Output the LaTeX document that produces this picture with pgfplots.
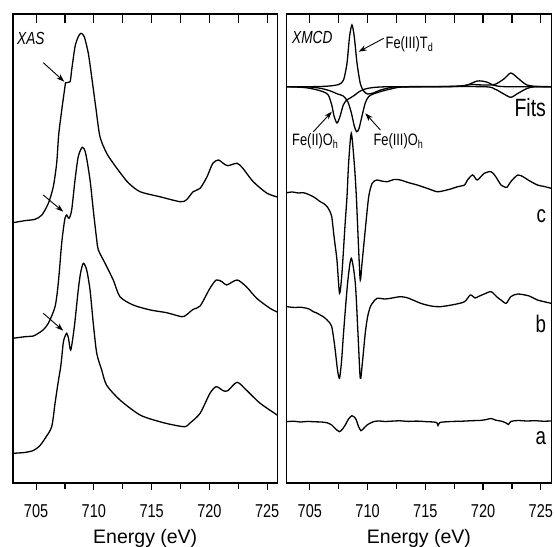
\documentclass[border=0pt]{standalone}
\usepackage{fontspec}
\usepackage{pgfplots}
\pgfplotsset{compat=1.18}
\usepackage{pgfplotstable}
\usetikzlibrary{arrows.meta}
\setmainfont{Liberation Sans}
\newfontfamily\cnd[FakeStretch=0.78]{Liberation Sans}
\newcommand{\fsz}[1]{\fontsize{#1}{#1}\selectfont}

% ---------- XAS (left) ----------
\pgfplotstableread{
E y
703.0 260.3
704.0 262.3
704.9 263.7
705.5 268
706.06 279.7
706.49 296.3
706.78 319.7
706.92 343
707.0 353
707.22 373
707.5 396.3
707.56 400.3
707.94 401.3
708.08 413
708.37 436.3
708.65 446.3
708.89 449.7
709.17 446.3
709.52 429.7
709.81 406.3
710.16 376.3
710.53 346.3
711.1 330
711.68 319.7
712.3 310
713.0 300
714.0 291.3
715.7 286.3
717.46 281.3
718.0 283
718.6 291.3
719.2 294.7
719.8 306.3
720.3 319.7
720.8 323
721.2 319.7
721.6 317.3
722.4 319.7
722.9 314.7
723.8 301.3
725.0 289.7
726.0 285.7
}\xasC
\pgfplotstableread{
E y
703.0 144.7
704.04 146.3
704.76 147
705.19 149.7
705.6 153
706.06 159.7
706.64 176.3
706.92 199.7
707.2 238
707.35 253
707.5 264.7
707.65 268
707.85 264.7
708.08 273
708.37 303
708.65 326.3
709.0 335.7
709.29 329.7
709.67 303
709.95 273
710.25 243
710.39 233
710.97 219.7
711.68 203
712.26 186.3
713.4 178
714.9 173
716.3 170.3
717.6 166.3
718.0 168
718.6 173.7
719.2 177
720.05 194.7
720.6 203
721.1 201.3
721.5 198
722.4 203
723.2 196.3
724.1 184.7
725.25 174.7
726.0 170.3
}\xasB
\pgfplotstableread{
E y
703.0 29.7
704.0 30.5
704.76 32.5
705.3 37
705.8 45
706.35 56.3
706.64 79.7
706.9 100
707.15 118
707.35 140
707.5 146.5
707.65 149.7
707.8 145
708.0 133
708.31 156.3
708.65 193
708.85 210
709.09 219.7
709.38 213
709.67 193
709.95 159.7
710.25 129.7
710.68 113
711.1 98
712.26 83
714.0 68
715.7 61.3
716.9 58
717.9 56.3
718.3 59.7
719.2 69.7
720.05 89.7
720.6 96.3
721.2 92.3
721.6 92.3
722.4 100.7
723.2 93
724.4 79.7
726.0 67
}\xasA

% ---------- XMCD (right) ----------
\pgfplotstableread{
E y
703.0 290.3
703.5 291
704.0 290
704.45 290.3
704.9 288.5
705.3 286.3
705.6 284
705.9 281.3
706.2 279.5
706.5 276.3
706.7 272.5
706.9 266.3
707.1 246.3
707.35 223
707.57 189.7
707.75 205
707.9 230
708.05 258
708.22 286.3
708.36 319.7
708.59 349.7
708.85 319.7
709.03 286.3
709.23 233
709.37 203
709.52 219.7
709.8 253
710.1 286.3
710.4 299.7
710.8 303
711.2 302
711.7 301.3
712.3 303.5
712.85 303
713.5 300.5
714.3 298
715.2 294.5
716.0 291.3
716.5 292
717.2 294
717.8 296.3
718.4 298
718.65 303
719.1 308
719.5 303
720.1 309.7
720.7 311.3
721.1 306.3
721.55 298
721.8 296.3
722.07 295.7
722.4 301.3
723.0 308
723.5 306
723.9 303
724.7 298
725.3 296.5
725.9 294.7
}\mcdC
\pgfplotstableread{
E y
703.0 176.3
703.7 175.5
704.2 175.8
704.74 174.7
705.0 173.7
705.3 171.3
705.6 170
705.9 168
706.2 166
706.5 163
706.7 160.5
706.9 156.3
707.05 146
707.2 133
707.4 113
707.57 104.7
707.75 122
707.92 149.7
708.27 199.7
708.59 224.7
708.94 199.7
709.17 149.7
709.37 104.7
709.55 120
709.8 149.7
710.0 166
710.24 176.3
710.5 181
710.83 184.7
711.5 184
712.0 184.7
712.85 186.3
713.5 185
714.6 179.7
715.5 177
716.3 176.3
717.5 178.5
718.4 181.3
718.9 188
719.3 185
719.6 186.5
720.1 189
720.7 191.3
721.2 186
721.55 183
722.0 179.7
722.4 186.3
723.0 189
724.0 187
724.7 183
725.9 179.7
}\mcdB
\pgfplotstableread{
E y
703.0 61.3
703.6 61.8
704.2 61
704.8 61.6
705.4 61.2
706.0 61.0
706.5 60.2
706.9 58
707.2 54.5
707.55 51.3
707.8 53.5
708.07 58
708.35 64
708.65 67.3
708.85 66
709.03 63
709.2 57
709.43 52.3
709.7 55
709.96 58
710.5 61.3
711.0 62
711.5 61.5
712.0 61.8
712.8 62.2
713.5 61.6
714.3 61.9
715.0 61.4
715.7 61
716.0 60.3
716.1 57.5
716.25 60.5
716.8 61.2
717.5 61.6
718.2 61.8
719.0 62.3
719.8 62.6
720.3 63.5
720.7 64.5
721.1 62.8
721.6 61.8
722.0 60
722.2 58.5
722.4 61.5
723.0 62.5
723.8 62
724.5 62.3
725.2 61.8
725.9 62
}\mcdA
\pgfplotstableread{
E y
703.0 396.3
705.0 396.3
706.5 396.8
707.5 398.5
707.92 403
708.22 419.7
708.44 446.3
708.65 458
708.85 446.3
709.09 419.7
709.37 399.7
709.66 392
710.0 389
710.5 390
711.0 392.5
712.0 395.5
713.0 396.3
720.0 396.3
721.0 394
721.8 389
722.4 385.7
723.0 389.5
723.8 394.5
724.5 396.3
725.9 396.3
}\fitTd
\pgfplotstableread{
E y
703.0 396.3
704.5 395.5
705.5 393.5
706.2 391
706.6 388
706.9 378
707.1 367
707.35 360
707.6 366
707.9 378
708.2 383
708.5 385
708.9 388
709.3 391.5
709.8 394
710.5 395.5
712.0 396.3
717.0 396.3
718.5 397.5
719.5 402
720.3 401
721.0 397.5
722.0 396.3
725.9 396.3
}\fitFeIIOh
\pgfplotstableread{
E y
703.0 396.3
705.0 396
706.0 394.5
706.8 392
707.4 389
707.9 387
708.3 381
708.6 370
708.85 357
709.05 351.3
709.25 354
709.5 366
709.8 380
710.1 386.5
710.5 389
711.0 391
712.0 394
713.0 396
716.0 396.3
718.0 397
719.0 398.5
720.0 398
721.0 398.5
721.8 404
722.4 410
723.0 405
723.8 398
725.0 396.3
725.9 396.3
}\fitFeIIIOh

\pgfplotsset{
  panel/.style={scale only axis, width=264.5bp, height=469bp,
    xmin=703, xmax=725.9, ymin=0, ymax=469, ytick=\empty,
    axis line style={line width=1.4bp},
    xtick={705,710,715,720,725},
    minor xtick={707.5,712.5,717.5,722.5},
    tick style={line width=1.2bp, black},
    anchor=south west},
  lowerticks/.style={xtick pos=bottom, tick align=outside,
    major tick length=7bp, minor tick length=6bp,
    xticklabels={705,710,715,720,725},
    xticklabel style={font=\cnd\fsz{18.6bp}, yshift=-11bp},
    xlabel={Energy (eV)},
    xlabel style={at={(axis description cs:0.5,-0.128)}, anchor=base, font=\fsz{19.5bp}}},
  upperticks/.style={xtick pos=top, tick align=inside,
    major tick length=9bp, minor tick length=9bp, xticklabels={}},
  crv/.style={black, line width=1.3bp, smooth, tension=0.45},
}
\tikzset{arr/.style={-{Stealth[length=8bp,width=5.5bp]}, line width=0.9bp}}

\begin{document}
\begin{tikzpicture}
\useasboundingbox (0,0) rectangle (555bp,547bp);
% ---- left panel ----
\begin{axis}[panel, upperticks, at={(13bp,64bp)}]
\end{axis}
\begin{axis}[panel, lowerticks, at={(13bp,64bp)}]
\addplot[crv] table[x=E,y=y]{\xasC};
\addplot[crv] table[x=E,y=y]{\xasB};
\addplot[crv] table[x=E,y=y]{\xasA};
\draw[arr] (axis cs:705.62,420.3) -- (axis cs:707.44,401.3);
\draw[arr] (axis cs:705.62,288) -- (axis cs:707.35,271.3);
\draw[arr] (axis cs:705.62,169.7) -- (axis cs:707.35,152.3);
\node[anchor=north west, inner sep=0, font=\cnd\fsz{17.5bp}\itshape] at (axis cs:703.35,451) {XAS};
\end{axis}
% ---- right panel ----
\begin{axis}[panel, upperticks, at={(286.7bp,64bp)}]
\end{axis}
\begin{axis}[panel, lowerticks, at={(286.7bp,64bp)}]
\addplot[crv] table[x=E,y=y]{\fitTd};
\addplot[crv] table[x=E,y=y]{\fitFeIIOh};
\addplot[crv] table[x=E,y=y]{\fitFeIIIOh};
\addplot[crv] table[x=E,y=y]{\mcdC};
\addplot[crv] table[x=E,y=y]{\mcdB};
\addplot[crv] table[x=E,y=y]{\mcdA};
\draw[arr] (axis cs:711.4,444.7) -- (axis cs:709.23,431.3);
\draw[arr] (axis cs:705.31,351.3) -- (axis cs:706.91,371.3);
\draw[arr] (axis cs:711.11,353) -- (axis cs:709.81,369.7);
\node[anchor=north west, inner sep=0, font=\cnd\fsz{17.5bp}\itshape] at (axis cs:703.46,452) {XMCD};
\node[anchor=base west, inner sep=0, font=\cnd\fsz{16.5bp}] at (axis cs:711.55,434) {Fe(III)T\textsubscript{d}};
\node[anchor=base west, inner sep=0, font=\cnd\fsz{16.5bp}] at (axis cs:703.46,337) {Fe(II)O\textsubscript{h}};
\node[anchor=base west, inner sep=0, font=\cnd\fsz{16.5bp}] at (axis cs:710.5,337) {Fe(III)O\textsubscript{h}};
\node[anchor=base east, inner sep=0, font=\cnd\fsz{25bp}] at (axis cs:725.46,366) {Fits};
\node[anchor=base east, inner sep=0, font=\cnd\fsz{24bp}] at (axis cs:725.46,260) {c};
\node[anchor=base east, inner sep=0, font=\cnd\fsz{24bp}] at (axis cs:725.46,150) {b};
\node[anchor=base east, inner sep=0, font=\cnd\fsz{24bp}] at (axis cs:725.46,38) {a};
\end{axis}
\end{tikzpicture}
\end{document}
